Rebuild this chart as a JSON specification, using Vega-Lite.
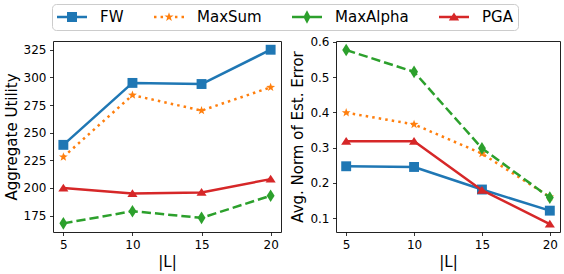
{
  "$schema": "https://vega.github.io/schema/vega-lite/v6.json",
  "padding": {"left": 3, "top": 3, "right": 0, "bottom": 4},
  "background": "white",
  "datasets": {
    "utility": [
      {"L": 5, "method": "FW", "value": 239}, {"L": 10, "method": "FW", "value": 295}, {"L": 15, "method": "FW", "value": 294}, {"L": 20, "method": "FW", "value": 325},
      {"L": 5, "method": "MaxSum", "value": 228}, {"L": 10, "method": "MaxSum", "value": 284}, {"L": 15, "method": "MaxSum", "value": 270}, {"L": 20, "method": "MaxSum", "value": 291},
      {"L": 5, "method": "MaxAlpha", "value": 168}, {"L": 10, "method": "MaxAlpha", "value": 179}, {"L": 15, "method": "MaxAlpha", "value": 173}, {"L": 20, "method": "MaxAlpha", "value": 193},
      {"L": 5, "method": "PGA", "value": 200}, {"L": 10, "method": "PGA", "value": 195}, {"L": 15, "method": "PGA", "value": 196}, {"L": 20, "method": "PGA", "value": 208}
    ],
    "error": [
      {"L": 5, "method": "FW", "value": 0.247}, {"L": 10, "method": "FW", "value": 0.245}, {"L": 15, "method": "FW", "value": 0.181}, {"L": 20, "method": "FW", "value": 0.121},
      {"L": 5, "method": "MaxSum", "value": 0.399}, {"L": 10, "method": "MaxSum", "value": 0.366}, {"L": 15, "method": "MaxSum", "value": 0.283}, {"L": 20, "method": "MaxSum", "value": 0.16},
      {"L": 5, "method": "MaxAlpha", "value": 0.577}, {"L": 10, "method": "MaxAlpha", "value": 0.515}, {"L": 15, "method": "MaxAlpha", "value": 0.298}, {"L": 20, "method": "MaxAlpha", "value": 0.158},
      {"L": 5, "method": "PGA", "value": 0.318}, {"L": 10, "method": "PGA", "value": 0.318}, {"L": 15, "method": "PGA", "value": 0.179}, {"L": 20, "method": "PGA", "value": 0.083}
    ]
  },
  "spacing": 55,
  "bounds": "flush",
  "hconcat": [
    {
      "width": 228,
      "height": 191,
      "data": {"name": "utility"},
      "encoding": {
        "x": {"field": "L", "type": "quantitative", "scale": {"domain": [4.25, 20.75], "nice": false, "zero": false},
              "axis": {"values": [5, 10, 15, 20], "title": "|L|"}},
        "y": {"field": "value", "type": "quantitative", "scale": {"domain": [160.2, 332.9], "nice": false, "zero": false},
              "axis": {"values": [175, 200, 225, 250, 275, 300, 325], "title": "Aggregate Utility"}}
      },
      "layer": [
        {"transform": [{"filter": {"field": "method", "equal": "FW"}}], "mark": {"type": "line", "stroke": "#1f77b4", "strokeWidth": 2.5, "strokeJoin": "round"}},
        {"transform": [{"filter": {"field": "method", "equal": "FW"}}], "mark": {"type": "point", "filled": true, "opacity": 1, "size": 121, "fill": "#1f77b4", "shape": "M-0.9,-0.9H0.9V0.9H-0.9Z"}},
        {"transform": [{"filter": {"field": "method", "equal": "MaxSum"}}], "mark": {"type": "line", "stroke": "#ff7f0e", "strokeWidth": 2.5, "strokeJoin": "round", "strokeDash": [2.5, 4.1]}},
        {"transform": [{"filter": {"field": "method", "equal": "MaxSum"}}], "mark": {"type": "point", "filled": true, "opacity": 1, "size": 121, "fill": "#ff7f0e", "shape": "M0,-0.85L0.2,-0.275L0.808,-0.263L0.323,0.105L0.5,0.688L0,0.34L-0.5,0.688L-0.323,0.105L-0.808,-0.263L-0.2,-0.275Z"}},
        {"transform": [{"filter": {"field": "method", "equal": "MaxAlpha"}}], "mark": {"type": "line", "stroke": "#2ca02c", "strokeWidth": 2.5, "strokeJoin": "round", "strokeDash": [9.25, 4]}},
        {"transform": [{"filter": {"field": "method", "equal": "MaxAlpha"}}], "mark": {"type": "point", "filled": true, "opacity": 1, "size": 121, "fill": "#2ca02c", "shape": "M0,-1.15L0.72,0L0,1.15L-0.72,0Z"}},
        {"transform": [{"filter": {"field": "method", "equal": "PGA"}}], "mark": {"type": "line", "stroke": "#d62728", "strokeWidth": 2.5, "strokeJoin": "round"}},
        {"transform": [{"filter": {"field": "method", "equal": "PGA"}}], "mark": {"type": "point", "filled": true, "opacity": 1, "size": 121, "fill": "#d62728", "shape": "M0,-0.78L0.92,0.62H-0.92Z"}},
        {
          "mark": {"type": "point", "filled": true, "opacity": 0, "size": 1},
          "encoding": {
            "color": {"field": "method", "type": "nominal",
              "scale": {"domain": ["FW", "MaxSum", "MaxAlpha", "PGA"], "range": ["#1f77b4", "#ff7f0e", "#2ca02c", "#d62728"]}},
            "shape": {"field": "method", "type": "nominal",
              "scale": {"domain": ["FW", "MaxSum", "MaxAlpha", "PGA"], "range": [
                "M-1,-0.156H2.75V0.156H-1ZM0.25,-0.625H1.5V0.625H0.25Z",
                "M-1,-0.156H-0.69V0.156H-1ZM-0.18,-0.156H0.13V0.156H-0.18ZM1.62,-0.156H1.93V0.156H1.62ZM2.44,-0.156H2.75V0.156H2.44ZM0.875,-0.6L1.016,-0.194L1.446,-0.185L1.103,0.074L1.228,0.485L0.875,0.24L0.522,0.485L0.647,0.074L0.304,-0.185L0.734,-0.194Z",
                "M-1,-0.156H2.75V0.156H-1ZM0.875,-0.85L1.325,0L0.875,0.85L0.425,0Z",
                "M-1,-0.156H2.75V0.156H-1ZM0.875,-0.55L1.525,0.45H0.225Z"
              ]}}
          }
        }
      ]
    },
    {
      "width": 224,
      "height": 191,
      "data": {"name": "error"},
      "encoding": {
        "x": {"field": "L", "type": "quantitative", "scale": {"domain": [4.25, 20.75], "nice": false, "zero": false},
              "axis": {"values": [5, 10, 15, 20], "title": "|L|"}},
        "y": {"field": "value", "type": "quantitative", "scale": {"domain": [0.0604, 0.6026], "nice": false, "zero": false},
              "axis": {"values": [0.1, 0.2, 0.3, 0.4, 0.5, 0.6], "format": ".1f", "title": "Avg. Norm of Est. Error"}}
      },
      "layer": [
        {"transform": [{"filter": {"field": "method", "equal": "FW"}}], "mark": {"type": "line", "stroke": "#1f77b4", "strokeWidth": 2.5, "strokeJoin": "round"}},
        {"transform": [{"filter": {"field": "method", "equal": "FW"}}], "mark": {"type": "point", "filled": true, "opacity": 1, "size": 121, "fill": "#1f77b4", "shape": "M-0.9,-0.9H0.9V0.9H-0.9Z"}},
        {"transform": [{"filter": {"field": "method", "equal": "MaxSum"}}], "mark": {"type": "line", "stroke": "#ff7f0e", "strokeWidth": 2.5, "strokeJoin": "round", "strokeDash": [2.5, 4.1]}},
        {"transform": [{"filter": {"field": "method", "equal": "MaxSum"}}], "mark": {"type": "point", "filled": true, "opacity": 1, "size": 121, "fill": "#ff7f0e", "shape": "M0,-0.85L0.2,-0.275L0.808,-0.263L0.323,0.105L0.5,0.688L0,0.34L-0.5,0.688L-0.323,0.105L-0.808,-0.263L-0.2,-0.275Z"}},
        {"transform": [{"filter": {"field": "method", "equal": "MaxAlpha"}}], "mark": {"type": "line", "stroke": "#2ca02c", "strokeWidth": 2.5, "strokeJoin": "round", "strokeDash": [9.25, 4]}},
        {"transform": [{"filter": {"field": "method", "equal": "MaxAlpha"}}], "mark": {"type": "point", "filled": true, "opacity": 1, "size": 121, "fill": "#2ca02c", "shape": "M0,-1.15L0.72,0L0,1.15L-0.72,0Z"}},
        {"transform": [{"filter": {"field": "method", "equal": "PGA"}}], "mark": {"type": "line", "stroke": "#d62728", "strokeWidth": 2.5, "strokeJoin": "round"}},
        {"transform": [{"filter": {"field": "method", "equal": "PGA"}}], "mark": {"type": "point", "filled": true, "opacity": 1, "size": 121, "fill": "#d62728", "shape": "M0,-0.78L0.92,0.62H-0.92Z"}}
      ]
    }
  ],
  "config": {
    "font": "DejaVu Sans",
    "view": {"stroke": "#222", "strokeWidth": 1},
    "legend": {
      "orient": "none", "legendX": -1, "legendY": -37, "direction": "horizontal", "title": null,
      "symbolSize": 256, "symbolOpacity": 1, "symbolStrokeWidth": 0, "labelFontSize": 15, "labelFont": "DejaVu Sans", "labelColor": "#000",
      "labelOffset": 27, "columnPadding": 30, "padding": 5, "strokeColor": "#cccccc", "cornerRadius": 4, "fillColor": "white"
    },
    "axis": {
      "grid": false, "domain": false, "ticks": true, "tickColor": "#000", "tickSize": 3.5, "tickWidth": 0.8,
      "labelFont": "DejaVu Sans", "labelFontSize": 12, "labelColor": "#000", "labelPadding": 3.5,
      "titleFont": "DejaVu Sans", "titleFontSize": 15, "titleFontWeight": "normal", "titleColor": "#000"
    },
    "axisY": {"titlePadding": 4},
    "axisX": {"titlePadding": 4}
  }
}
